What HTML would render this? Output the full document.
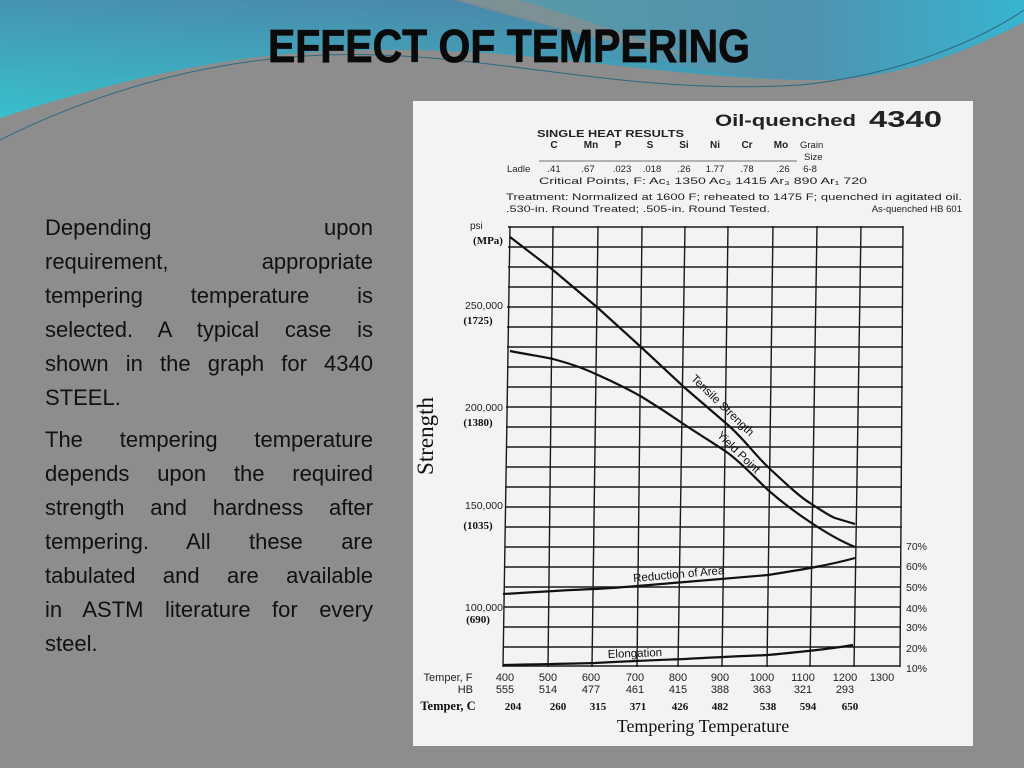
<!DOCTYPE html>
<html><head><meta charset="utf-8">
<style>
html,body{margin:0;padding:0;}
body{width:1024px;height:768px;overflow:hidden;background:#8d8d8d;position:relative;font-family:"Liberation Sans",sans-serif;}
svg{position:absolute;left:0;top:0;}
.p{position:absolute;left:45px;width:328px;font-size:22px;color:#111;white-space:nowrap;text-align:justify;text-align-last:justify;line-height:34px;height:34px;}
.l{text-align-last:left;}
</style></head><body>
<svg width="1024" height="768" viewBox="0 0 1024 768" xmlns="http://www.w3.org/2000/svg">
<defs>
<linearGradient id="tl" x1="0" y1="1" x2="0.6" y2="0">
<stop offset="0" stop-color="#38c0cc"/><stop offset="1" stop-color="#4b84a6"/></linearGradient>
<linearGradient id="tr" x1="0" y1="0" x2="1" y2="0">
<stop offset="0" stop-color="#5a9aa6"/><stop offset="0.6" stop-color="#4f92ae"/><stop offset="1" stop-color="#38b4d0"/></linearGradient>
</defs>
<rect width="1024" height="768" fill="#8d8d8d"/>
<path d="M0 0 L1024 0 L1024 22 C960 55 890 82 800 80 C700 78 600 62 500 54 C420 48 330 48 250 58 C150 72 60 98 0 118 Z" fill="url(#tl)"/>
<path d="M460 0 L1024 0 L1024 22 C960 55 890 82 800 80 C740 78 700 70 660 60 C600 40 540 20 460 0 Z" fill="url(#tr)"/>
<path d="M455 0 L520 0 C580 18 640 40 700 58 C620 45 540 25 455 0 Z" fill="#8d8d8d" opacity="0.7"/>
<path d="M0 140 C120 80 250 50 380 55 C520 60 640 95 800 85 C900 75 980 40 1024 10" fill="none" stroke="#2a6a80" stroke-width="1"/>
<text x="268" y="62" font-family="Liberation Sans,sans-serif" font-weight="bold" font-size="46" fill="#0a0a0a" stroke="#0a0a0a" stroke-width="0.8" textLength="482" lengthAdjust="spacingAndGlyphs">EFFECT OF TEMPERING</text>

<rect x="413" y="101" width="560" height="645" fill="#f3f3f1"/>
<g font-family="Liberation Sans,sans-serif" fill="#222">
<text x="715" y="126" font-size="17" font-weight="bold" textLength="141" lengthAdjust="spacingAndGlyphs">Oil-quenched</text>
<text x="869" y="127" font-size="23" font-weight="bold" textLength="73" lengthAdjust="spacingAndGlyphs">4340</text>
<text x="537" y="137" font-size="10.5" font-weight="bold" textLength="147" lengthAdjust="spacingAndGlyphs">SINGLE HEAT RESULTS</text>
<g font-size="10" font-weight="bold" text-anchor="middle">
<text x="554" y="148">C</text><text x="591" y="148">Mn</text><text x="618" y="148">P</text><text x="650" y="148">S</text><text x="684" y="148">Si</text><text x="715" y="148">Ni</text><text x="747" y="148">Cr</text><text x="781" y="148">Mo</text></g>
<g font-size="9.5">
<text x="800" y="148">Grain</text><text x="804" y="160">Size</text>
<line x1="539" y1="161" x2="797" y2="161" stroke="#444" stroke-width="0.8"/>
<text x="507" y="172">Ladle</text>
<g text-anchor="middle"><text x="554" y="172">.41</text><text x="588" y="172">.67</text><text x="622" y="172">.023</text><text x="652" y="172">.018</text><text x="684" y="172">.26</text><text x="715" y="172">1.77</text><text x="747" y="172">.78</text><text x="783" y="172">.26</text><text x="810" y="172">6-8</text></g>
<text x="539" y="184" textLength="328" lengthAdjust="spacingAndGlyphs">Critical Points, F:   Ac₁ 1350   Ac₃ 1415   Ar₃ 890   Ar₁ 720</text>
<text x="506" y="200" textLength="456" lengthAdjust="spacingAndGlyphs">Treatment: Normalized at 1600 F; reheated to 1475 F; quenched in agitated oil.</text>
<text x="506" y="212" textLength="264" lengthAdjust="spacingAndGlyphs">.530-in. Round Treated; .505-in. Round Tested.</text>
<text x="962" y="212" text-anchor="end">As-quenched HB 601</text>
<text x="470" y="229" font-size="10">psi</text>
</g>
<g font-size="10.5" text-anchor="end">
<text x="503" y="309">250,000</text><text x="503" y="411">200,000</text><text x="503" y="509">150,000</text><text x="503" y="611">100,000</text></g>
<g font-size="10.5">
<text x="906" y="550">70%</text><text x="906" y="570">60%</text><text x="906" y="591">50%</text><text x="906" y="612">40%</text><text x="906" y="631">30%</text><text x="906" y="652">20%</text><text x="906" y="672">10%</text></g>
<g font-size="11" text-anchor="middle">
<text x="448" y="681">Temper, F</text><text x="473" y="693" text-anchor="end">HB</text>
<text x="505" y="681">400</text><text x="548" y="681">500</text><text x="591" y="681">600</text><text x="635" y="681">700</text><text x="678" y="681">800</text><text x="720" y="681">900</text><text x="762" y="681">1000</text><text x="803" y="681">1100</text><text x="845" y="681">1200</text><text x="882" y="681">1300</text>
<text x="505" y="693">555</text><text x="548" y="693">514</text><text x="591" y="693">477</text><text x="635" y="693">461</text><text x="678" y="693">415</text><text x="720" y="693">388</text><text x="762" y="693">363</text><text x="803" y="693">321</text><text x="845" y="693">293</text>
</g>
</g>
<g font-family="Liberation Serif,serif" fill="#111" font-weight="bold" font-size="11" text-anchor="middle">
<text x="488" y="244">(MPa)</text><text x="478" y="324">(1725)</text><text x="478" y="426">(1380)</text><text x="478" y="529">(1035)</text><text x="478" y="623">(690)</text>
<text x="448" y="710" font-size="12.5">Temper, C</text>
<text x="513" y="710">204</text><text x="558" y="710">260</text><text x="598" y="710">315</text><text x="638" y="710">371</text><text x="680" y="710">426</text><text x="720" y="710">482</text><text x="768" y="710">538</text><text x="808" y="710">594</text><text x="850" y="710">650</text>
</g>
<text x="703" y="732" font-family="Liberation Serif,serif" font-size="18" text-anchor="middle" fill="#111">Tempering Temperature</text>
<text transform="translate(433,436) rotate(-90)" font-family="Liberation Serif,serif" font-size="23" text-anchor="middle" fill="#111">Strength</text>

<g stroke="#1a1a1a" stroke-width="1.4" fill="none">
<line x1="510" y1="226" x2="503" y2="667"/><line x1="553" y1="226" x2="548" y2="667"/><line x1="598" y1="226" x2="592" y2="667"/><line x1="642" y1="226" x2="637" y2="667"/><line x1="685" y1="226" x2="678" y2="667"/><line x1="728" y1="226" x2="722" y2="667"/><line x1="773" y1="226" x2="767" y2="667"/><line x1="817" y1="226" x2="810" y2="667"/><line x1="861" y1="226" x2="854" y2="667"/><line x1="903" y1="226" x2="900" y2="667"/>
<path d="M508 227H903M508 247H903M508 267H903M508 287H903M507 307H903M507 327H903M507 347H903M507 367H903M507 387H903M506 407H902M506 427H902M506 447H902M506 467H902M505 487H902M505 507H902M505 527H902M505 547H901M504 567H901M504 587H901M504 607H901M504 627H901M503 647H900M503 666H900"/>
</g>
<g stroke="#111" stroke-width="2.2" fill="none">
<path d="M510 237 L553 270 L598 308 L642 348 L685 388 L728 425 C745 440 755 455 768 467 C785 483 800 497 810 503 C822 511 830 516 835 518 L855 524"/>
<path d="M510 351 C530 355 540 356 553 359 C575 365 585 369 598 375 C620 385 630 390 642 397 C660 408 672 416 685 425 C700 435 715 444 728 453 C745 466 755 478 768 490 C785 505 798 514 810 522 C825 532 840 541 855 547"/>
<path d="M503 594 C540 592 565 590 595 589 C630 587 660 584 685 582 C720 579 745 577 768 575 C800 570 830 565 855 558"/>
<path d="M503 665 C540 664 565 664 595 663 C630 661 660 660 685 659 C720 657 745 656 768 655 C800 652 830 649 853 645"/>
</g>
<g font-family="Liberation Sans,sans-serif" fill="#111" font-size="11.5" text-anchor="middle">
<text transform="translate(720,408) rotate(44)">Tensile Strength</text>
<text transform="translate(736,455) rotate(44)">Yield Point</text>
<text transform="translate(679,578) rotate(-5)">Reduction of Area</text>
<text transform="translate(635,657) rotate(-2)">Elongation</text>
</g>
</svg>
<div class="p" style="top:211px">Depending upon</div>
<div class="p" style="top:245px">requirement, appropriate</div>
<div class="p" style="top:279px">tempering temperature is</div>
<div class="p" style="top:313px">selected. A typical case is</div>
<div class="p" style="top:347px">shown in the graph for 4340</div>
<div class="p l" style="top:381px">STEEL.</div>
<div class="p" style="top:423px">The tempering temperature</div>
<div class="p" style="top:457px">depends upon the required</div>
<div class="p" style="top:491px">strength and hardness after</div>
<div class="p" style="top:525px">tempering. All these are</div>
<div class="p" style="top:559px">tabulated and are available</div>
<div class="p" style="top:593px">in ASTM literature for every</div>
<div class="p l" style="top:627px">steel.</div>
</body></html>
